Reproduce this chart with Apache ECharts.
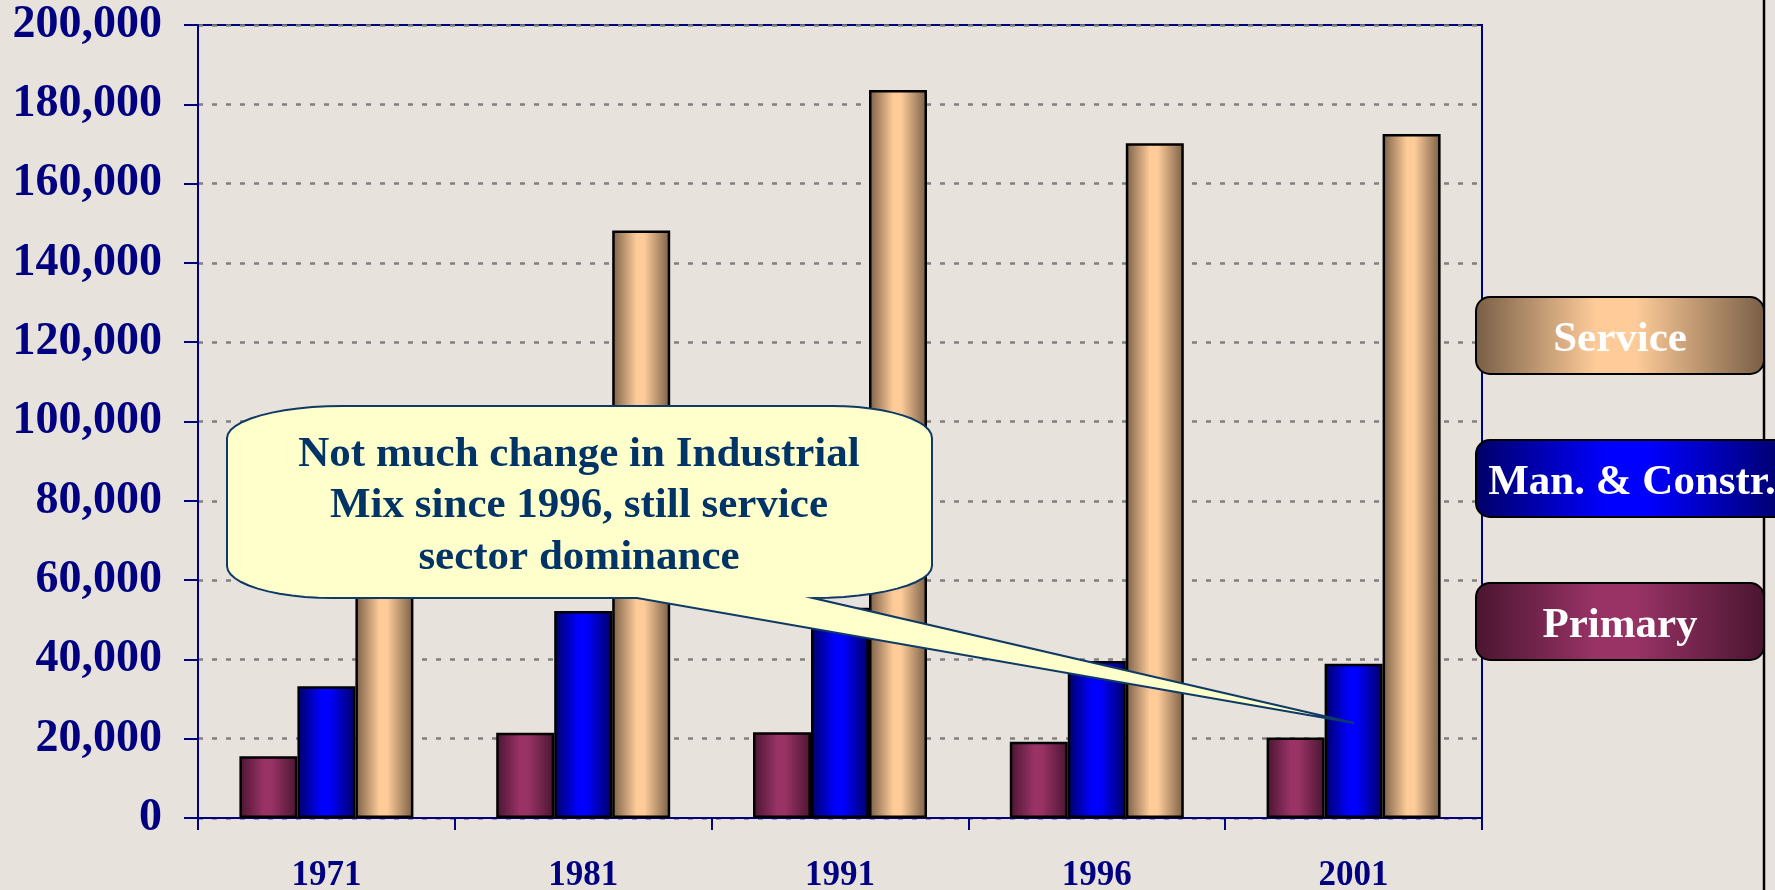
<!DOCTYPE html>
<html>
<head>
<meta charset="utf-8">
<title>Industrial Mix</title>
<script src="https://cdn.jsdelivr.net/npm/echarts@6.0.0/dist/echarts.min.js"></script>
<style>
  html, body { margin: 0; padding: 0; background: #e8e2dc; }
  #chart { width: 1775px; height: 890px; }
</style>
</head>
<body>
<div id="chart"></div>
<script>
// data
const years = ['1971', '1981', '1991', '1996', '2001']
const primary = [15600, 21500, 21600, 19200, 20300]
const manConstr = [33200, 52200, 53000, 39600, 38900]
const service = [95000, 148200, 183600, 170200, 172500]
const legendOrder = ['Service', 'Man. & Constr.', 'Primary']
const calloutLines = ['Not much change in Industrial', 'Mix since 1996, still service', 'sector dominance']

const FONT = '"Liberation Serif", "Times New Roman", serif'
const NAVY = '#000080'

function hGrad(edge, mid) {
  return {
    type: 'linear', x: 0, y: 0, x2: 1, y2: 0,
    colorStops: [
      { offset: 0, color: edge },
      { offset: 0.42, color: mid },
      { offset: 0.55, color: mid },
      { offset: 1, color: edge }
    ]
  }
}
const colPrimary = hGrad('#4a1530', '#993366')
const colMan = hGrad('#000066', '#0000ff')
const colService = hGrad('#785e46', '#ffcc99')

// callout balloon outline (annotation shape, pixels)
function calloutPoints() {
  const L = 227, R = 932, T = 406, B = 598, ry = 32
  const rxTL = 115, rxTR = 100, rxBR = 119, rxBL = 105
  const tip = [1354, 723]
  const pts = []
  const arc = (cx, cy, rx, a0, a1) => {
    for (let i = 0; i <= 12; i++) {
      const a = (a0 + (a1 - a0) * i / 12) * Math.PI / 180
      pts.push([cx + rx * Math.cos(a), cy + ry * Math.sin(a)])
    }
  }
  arc(R - rxTR, T + ry, rxTR, -90, 0)
  arc(R - rxBR, B - ry, rxBR, 0, 90)
  pts.push(tip)
  pts.push([637, B])
  arc(L + rxBL, B - ry, rxBL, 90, 180)
  arc(L + rxTL, T + ry, rxTL, 180, 270)
  return pts
}

function legendBox(fill, w) {
  return {
    width: w, height: 66, lineHeight: 66, padding: [9, 0, 0, 0],
    align: 'center', verticalAlign: 'middle',
    color: '#ffffff', fontSize: 43, fontWeight: 'bold', fontFamily: FONT,
    backgroundColor: fill, borderColor: '#000', borderWidth: 2, borderRadius: 13
  }
}
const legendKeys = { 'Service': 's', 'Man. & Constr.': 'm', 'Primary': 'p' }

const chart = echarts.init(document.getElementById('chart'))

const barBase = {
  type: 'bar',
  barWidth: 58,
  barGap: '0%',
  animation: false
}

chart.setOption({
  backgroundColor: '#e8e2dc',
  grid: {
    left: 198, right: 293, top: 25, bottom: 72,
    show: true, borderColor: NAVY, borderWidth: 2,
    backgroundColor: 'transparent',
    outerBoundsMode: 'none'
  },
  legend: {
    data: legendOrder,
    orient: 'vertical',
    left: 1467, top: 291,
    itemGap: 64,
    icon: 'none',
    itemWidth: 0, itemHeight: 0,
    selectedMode: false,
    formatter: name => '{' + legendKeys[name] + '|' + name + '}',
    textStyle: {
      rich: {
        s: legendBox(colService, 286),
        m: legendBox(colMan, 310),
        p: legendBox(colPrimary, 286)
      }
    }
  },
  xAxis: {
    type: 'category',
    data: years,
    axisLine: { lineStyle: { color: NAVY, width: 2 } },
    axisTick: { show: true, length: 12, lineStyle: { color: NAVY, width: 2 } },
    axisLabel: {
      color: NAVY, fontSize: 35, fontWeight: 'bold', fontFamily: FONT, margin: 40
    },
    splitLine: { show: false }
  },
  yAxis: {
    type: 'value',
    min: 0, max: 200000, interval: 20000,
    axisLine: { show: true, lineStyle: { color: NAVY, width: 2 } },
    axisTick: { show: true, length: 14, lineStyle: { color: NAVY, width: 2 } },
    axisLabel: {
      color: NAVY, fontSize: 46, fontWeight: 'bold', fontFamily: FONT, margin: 36,
      formatter: v => v.toLocaleString('en-US')
    },
    splitLine: {
      show: true,
      lineStyle: { color: '#808080', width: 2.5, type: [5, 9] }
    }
  },
  series: [
    Object.assign({ name: 'Primary', data: primary,
      itemStyle: { color: colPrimary, borderColor: '#000', borderWidth: 2.5 } }, barBase),
    Object.assign({ name: 'Man. & Constr.', data: manConstr,
      itemStyle: { color: colMan, borderColor: '#000', borderWidth: 2.5 } }, barBase),
    Object.assign({ name: 'Service', data: service,
      itemStyle: { color: colService, borderColor: '#000', borderWidth: 2.5 } }, barBase)
  ],
  graphic: [
    {
      type: 'line', z: -1,
      shape: { x1: 1764, y1: 0, x2: 1764, y2: 890 },
      style: { stroke: '#000', lineWidth: 2.5 }
    },
    {
      type: 'polygon', z: 100,
      shape: { points: calloutPoints() },
      style: { fill: '#ffffcc', stroke: '#0f3a66', lineWidth: 2 }
    },
    {
      type: 'text', z: 101,
      x: 579, y: 506,
      style: {
        text: calloutLines.join('\n'),
        fill: '#003366',
        fontSize: 43, fontWeight: 'bold', fontFamily: FONT,
        align: 'center', verticalAlign: 'middle', lineHeight: 51.5
      }
    }
  ]
})
</script>
</body>
</html>
